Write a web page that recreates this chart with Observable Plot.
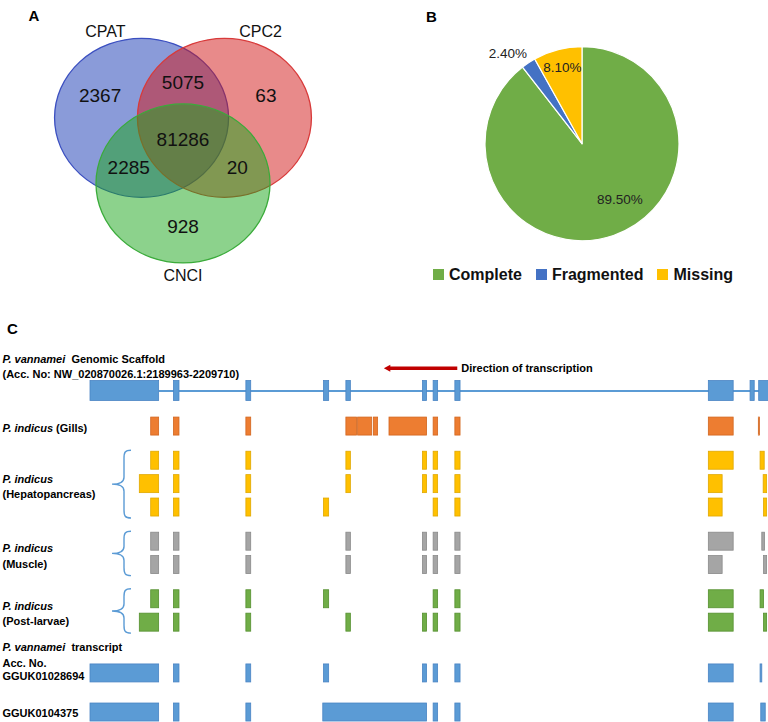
<!DOCTYPE html>
<html>
<head>
<meta charset="utf-8">
<script src="https://cdn.jsdelivr.net/npm/d3@7"></script>
<script src="https://cdn.jsdelivr.net/npm/@observablehq/plot@0.6"></script>
<style>
html, body { margin: 0; padding: 0; background: #fff; overflow: hidden; }
#page { position: relative; width: 768px; height: 722px; background: #fff; }
.panel { position: absolute; }
.venn-dot circle { transform-box: fill-box; transform-origin: center; transform: scaleY(0.914); }
.busco-legend-swatch { margin-right: 14px !important; }
.busco-legend-swatch > svg { margin-right: 5px !important; }
#panelC text { white-space: pre; }
</style>
</head>
<body>
<div id="page">
  <div id="panelA" class="panel" style="left:0;top:0;width:384px;height:300px"></div>
  <div id="panelB" class="panel" style="left:384px;top:0;width:384px;height:260px"></div>
  <div id="legendB" class="panel" style="left:433px;top:258px;width:335px"></div>
  <div id="panelC" class="panel" style="left:0;top:300px;width:768px;height:422px"></div>
</div>
<script>
// ---------------- DATA ----------------
// Panel A: Venn diagram of coding-potential tools
const vennSets = ["CPAT", "CPC2", "CNCI"];
const vennRegionSets = [["CPAT"], ["CPC2"], ["CNCI"], ["CPAT", "CPC2"], ["CPAT", "CNCI"], ["CPC2", "CNCI"], ["CPAT", "CPC2", "CNCI"]];
const vennRegionCounts = [2367, 63, 928, 5075, 2285, 20, 81286];
const vennFillColors = ["#1537b3", "#d11515", "#19a519"];
const vennStrokeColors = ["#3b4fc0", "#d83a3a", "#3aab3a"];

// Panel B: BUSCO completeness
const buscoCategories = ["Complete", "Fragmented", "Missing"];
const buscoPercent = [89.5, 2.4, 8.1];
const buscoColors = ["#70ad47", "#4472c4", "#ffc000"];

// Panel C: gene structure (positions in kb from scaffold start)
const scaffoldName = "P. vannamei  Genomic Scaffold";
const scaffoldAcc = "(Acc. No: NW_020870026.1:2189963-2209710)";
const scaffoldStart = 2189963;
const scaffoldEnd = 2209710;
const scaffoldExons = [[0, 1.99], [2.42, 2.58], [4.52, 4.66], [6.77, 6.92], [7.42, 7.55], [9.64, 9.76], [9.95, 10.08], [10.58, 10.73], [17.93, 18.65], [19.14, 19.26], [19.39, 19.75]];
const gillsExons = [[1.76, 1.99], [2.42, 2.58], [4.52, 4.66], [7.42, 7.73], [7.76, 8.17], [8.22, 8.34], [8.67, 9.76], [9.95, 10.08], [10.58, 10.73], [17.93, 18.65], [19.38, 19.41]];
const hepato1Exons = [[1.76, 1.99], [2.42, 2.58], [4.52, 4.66], [7.42, 7.55], [9.64, 9.76], [9.95, 10.08], [10.58, 10.73], [17.93, 18.65], [19.43, 19.55]];
const hepato2Exons = [[1.43, 1.99], [2.42, 2.58], [4.52, 4.66], [7.42, 7.55], [9.64, 9.76], [9.95, 10.08], [10.58, 10.73], [17.93, 18.33], [19.52, 19.62]];
const hepato3Exons = [[1.76, 1.99], [2.42, 2.58], [4.52, 4.66], [6.77, 6.92], [9.95, 10.08], [10.58, 10.73], [17.93, 18.33], [19.53, 19.62]];
const muscle1Exons = [[1.76, 1.99], [2.42, 2.58], [4.52, 4.66], [7.42, 7.55], [9.64, 9.76], [9.95, 10.08], [10.58, 10.73], [17.93, 18.65], [19.48, 19.56]];
const muscle2Exons = [[1.76, 1.99], [2.42, 2.58], [4.52, 4.66], [7.42, 7.55], [9.64, 9.76], [9.95, 10.08], [10.58, 10.73], [17.93, 18.33], [19.53, 19.62]];
const postlarvae1Exons = [[1.76, 1.99], [2.42, 2.58], [4.52, 4.66], [6.77, 6.92], [9.95, 10.08], [10.58, 10.73], [17.93, 18.65], [19.43, 19.53]];
const postlarvae2Exons = [[1.43, 1.99], [2.42, 2.58], [4.52, 4.66], [7.42, 7.55], [9.64, 9.76], [9.95, 10.08], [10.58, 10.73], [17.93, 18.65], [19.53, 19.62]];
const transcript1Exons = [[0, 1.99], [2.42, 2.58], [4.52, 4.66], [6.77, 6.92], [9.64, 9.76], [9.95, 10.08], [10.58, 10.73], [17.93, 18.65], [19.43, 19.48]];
const transcript2Exons = [[0, 1.99], [2.42, 2.58], [4.52, 4.66], [6.75, 9.76], [9.95, 10.08], [10.58, 10.73], [17.93, 18.65], [19.45, 19.58]];
const trackGroups = ["Gills", "Hepatopancreas", "Hepatopancreas", "Hepatopancreas", "Muscle", "Muscle", "Post-larvae", "Post-larvae", "GGUK01028694", "GGUK0104375"];
const trackExonLists = [gillsExons, hepato1Exons, hepato2Exons, hepato3Exons, muscle1Exons, muscle2Exons, postlarvae1Exons, postlarvae2Exons, transcript1Exons, transcript2Exons];
const transcriptionArrowKb = [10.65, 8.52];
const arrowLabel = "Direction of transcription";

// ---------------- STYLE / LAYOUT ----------------
const FONT = "'Liberation Sans', Arial, Helvetica, sans-serif";
function polar(deg, d) { const a = deg * Math.PI / 180; return [d * Math.sin(a), -d * Math.cos(a)]; }

// ---- Panel A ----
const setAngle = {CPAT: -60, CPC2: 60, CNCI: 180};
const setLabelAngle = {CPAT: -21, CPC2: 21, CNCI: 180};
const centerDist = 0.55, soloDist = 1.1, pairDist = 0.72, labelDist = 1.16;
const circles = vennSets.map((s, i) => {
  const [x, y] = polar(setAngle[s], centerDist);
  return {set: s, x, y, fill: vennFillColors[i], stroke: vennStrokeColors[i]};
});
const regions = vennRegionSets.map((sets, i) => {
  let p = [0, 0];
  if (sets.length === 1) p = polar(setAngle[sets[0]], soloDist);
  else if (sets.length === 2) {
    const other = vennSets.find(s => !sets.includes(s));
    p = polar(setAngle[other] + 180, pairDist);
  }
  return {count: vennRegionCounts[i], x: p[0], y: p[1]};
});
const setLabels = circles.map(c => {
  const [dx, dy] = polar(setLabelAngle[c.set], labelDist);
  return {set: c.set, x: c.x + dx, y: c.y + dy};
});

const plotA = Plot.plot({
  width: 384, height: 300, margin: 0,
  x: {domain: [-1, 1], range: [95.5, 269.5], axis: null},
  y: {domain: [-1, 1], range: [59.7, 218.7], axis: null},
  color: {type: "identity"},
  style: {fontFamily: FONT, background: "transparent"},
  marks: [
    Plot.dot(circles, {x: "x", y: "y", r: 87, fill: "fill", fillOpacity: 0.5, stroke: "stroke", strokeWidth: 1.3, className: "venn-dot"}),
    Plot.text(regions, {x: "x", y: "y", text: d => String(d.count), fontSize: 19, fill: "#111"}),
    Plot.text(setLabels, {x: "x", y: "y", text: "set", fontSize: 16, fill: "#111"}),
    Plot.text(["A"], {frameAnchor: "top-left", dx: 28, dy: 10, fontSize: 15, fontWeight: "bold", fill: "#000"})
  ]
});
document.getElementById("panelA").append(plotA);

// ---- Panel B ----
const buscoColor = Plot.scale({color: {type: "ordinal", domain: buscoCategories, range: buscoColors}});
const buscoData = buscoCategories.map((c, i) => ({category: c, percent: buscoPercent[i]}));
const pieArcs = d3.pie().sort(null).value(d => d.percent)(buscoData);
const pieLabelLayout = {Complete: {r: 0.69, dA: -15}, Fragmented: {r: 1.21, dA: -6}, Missing: {r: 0.82, dA: 0}};
const pieLabels = pieArcs.map(a => {
  const L = pieLabelLayout[a.data.category];
  const ang = (a.startAngle + a.endAngle) / 2 + L.dA * Math.PI / 180;
  return {text: a.data.percent.toFixed(2) + "%", x: L.r * Math.sin(ang), y: L.r * Math.cos(ang)};
});
function pieMark(index, scales) {
  const cx = scales.x(0), cy = scales.y(0), r = scales.x(1) - scales.x(0);
  const arc = d3.arc().innerRadius(0).outerRadius(r);
  const g = d3.create("svg:g").attr("transform", `translate(${cx},${cy})`);
  g.selectAll("path").data(pieArcs).join("path")
    .attr("d", arc)
    .attr("fill", d => buscoColor.apply(d.data.category))
    .attr("stroke", "#fff").attr("stroke-width", 1.2).attr("stroke-linejoin", "round");
  return g.node();
}
const plotB = Plot.plot({
  width: 384, height: 260, margin: 0,
  x: {domain: [-1, 1], range: [101, 295], axis: null},
  y: {domain: [-1, 1], range: [240.7, 46.7], axis: null},
  style: {fontFamily: FONT, background: "transparent"},
  marks: [
    pieMark,
    Plot.text(pieLabels, {x: "x", y: "y", text: "text", fontSize: 13.5, fill: "#222"}),
    Plot.text(["B"], {frameAnchor: "top-left", dx: 41.5, dy: 11, fontSize: 15, fontWeight: "bold", fill: "#000"})
  ]
});
document.getElementById("panelB").append(plotB);
const legendB = Plot.legend({
  color: {type: "ordinal", domain: buscoCategories, range: buscoColors},
  swatchSize: 11,
  className: "busco-legend",
  style: {fontFamily: FONT, fontSize: "16px", fontWeight: "bold", color: "#111"}
});
document.getElementById("legendB").append(legendB);

// ---- Panel C ----
const TRACK_PX = 23.4;
const groupGapBefore = {"Gills": 1.52, "Hepatopancreas": 1.46, "Muscle": 1.46, "Post-larvae": 1.46, "GGUK01028694": 2.17, "GGUK0104375": 1.67};
const groupFill = {scaffold: "#5b9bd5", "Gills": "#ed7d31", "Hepatopancreas": "#ffc000", "Muscle": "#a5a5a5", "Post-larvae": "#70ad47", "GGUK01028694": "#5b9bd5", "GGUK0104375": "#5b9bd5"};
const groupStroke = {scaffold: "#4a84c4", "Gills": "#d2661f", "Hepatopancreas": "#e0a800", "Muscle": "#8a8a8a", "Post-larvae": "#55902f", "GGUK01028694": "#4a84c4", "GGUK0104375": "#4a84c4"};
let acc = 0, prev = "scaffold";
const trackY = trackGroups.map(g => { acc += (g === prev ? 1 : groupGapBefore[g]); prev = g; return acc; });
const exonRecords = [];
scaffoldExons.forEach(([s, e]) => exonRecords.push({start: s, end: e, y: 0, half: 10 / TRACK_PX, fill: groupFill.scaffold, stroke: groupStroke.scaffold}));
trackExonLists.forEach((list, i) => list.forEach(([s, e]) => exonRecords.push({start: s, end: e, y: trackY[i], half: 9 / TRACK_PX, fill: groupFill[trackGroups[i]], stroke: groupStroke[trackGroups[i]]})));
const scaffoldLengthKb = (scaffoldEnd - scaffoldStart) / 1000;

function groupY(g) { const ys = trackY.filter((y, i) => trackGroups[i] === g); return {y1: d3.min(ys), y2: d3.max(ys), y: d3.mean(ys)}; }
const tissueGroups = ["Hepatopancreas", "Muscle", "Post-larvae"];
const tissueLabels = tissueGroups.map(g => ({text: "P. indicus\n(" + g + ")", y: groupY(g).y}));
const braces = tissueGroups.map(g => groupY(g));
const t1 = groupY("GGUK01028694").y, t2 = groupY("GGUK0104375").y;
const arrowTrack = -0.95;

function braceMark(index, scales, values, dimensions) {
  const ml = dimensions.marginLeft;
  const xl = ml + 22, xm = ml + 34, xr = ml + 41;
  const g = d3.create("svg:g").attr("fill", "none").attr("stroke", "#5b9bd5").attr("stroke-width", 1.4);
  for (const b of braces) {
    const yt = scales.y(b.y1) - 10, yb = scales.y(b.y2) + 11, ym = (yt + yb) / 2;
    const p = `M${xr},${yt} C${xm + 1},${yt} ${xm},${yt + 2} ${xm},${yt + 8} L${xm},${ym - 7} C${xm},${ym - 2} ${xm - 4},${ym} ${xl},${ym} C${xm - 4},${ym} ${xm},${ym + 2} ${xm},${ym + 7} L${xm},${yb - 8} C${xm},${yb - 2} ${xm + 1},${yb} ${xr},${yb}`;
    g.append("path").attr("d", p);
  }
  return g.node();
}
function arrowMark(index, scales) {
  const xa = scales.x(transcriptionArrowKb[0]), xb = scales.x(transcriptionArrowKb[1]), y = scales.y(arrowTrack);
  const hl = 6.5, hw = 3.6, sw = 1.8;
  const pts = [[xa, y - sw], [xb + hl, y - sw], [xb + hl, y - hw], [xb, y], [xb + hl, y + hw], [xb + hl, y + sw], [xa, y + sw]];
  return d3.create("svg:path").attr("d", "M" + pts.map(p => p.join(",")).join("L") + "Z").attr("fill", "#c00000").node();
}

const textOpts = {frameAnchor: "left", dx: -88, fontWeight: "bold", fill: "#000", fontSize: 11};
const plotC = Plot.plot({
  width: 768, height: 422, marginLeft: 90, marginRight: 0, marginTop: 0, marginBottom: 0,
  x: {domain: [0, 19.66], axis: null},
  y: {domain: [0, 1], range: [90.5, 90.5 + TRACK_PX], axis: null},
  color: {type: "identity"},
  style: {fontFamily: FONT, background: "transparent"},
  marks: [
    Plot.ruleY([0], {x1: scaffoldExons[0][1], x2: scaffoldLengthKb, stroke: "#5b9bd5", strokeWidth: 2}),
    Plot.rect(exonRecords, {x1: "start", x2: "end", y1: d => d.y - d.half, y2: d => d.y + d.half, fill: "fill", stroke: "stroke", strokeWidth: 0.8}),
    arrowMark,
    Plot.text([arrowLabel], {x: transcriptionArrowKb[0] + 0.1, y: arrowTrack, textAnchor: "start", fontWeight: "bold", fontSize: 11, fill: "#000"}),
    braceMark,
    Plot.text([scaffoldName + "\n" + scaffoldAcc], {...textOpts, y: 0, dy: -25, lineHeight: 1.31}),
    Plot.text(["P. indicus (Gills)"], {...textOpts, y: trackY[0], dy: 2}),
    Plot.text(tissueLabels, {...textOpts, y: "y", text: "text", dy: 1.5, lineHeight: 1.4}),
    Plot.text(["P. vannamei  transcript\nAcc. No."], {...textOpts, y: t1, dy: -19.6, lineHeight: 1.5}),
    Plot.text(["GGUK01028694"], {...textOpts, y: t1, dy: 3.4}),
    Plot.text(["GGUK0104375"], {...textOpts, y: t2, dy: 1.4}),
    Plot.text(["C"], {frameAnchor: "top-left", dx: 6.5 - 90, dy: 23, fontSize: 15, fontWeight: "bold", fill: "#000"})
  ]
});
// italicize species names
plotC.querySelectorAll("text").forEach(t => {
  const spans = t.querySelectorAll("tspan");
  const nodes = spans.length ? Array.from(spans) : [t];
  nodes.forEach(node => {
    const m = node.textContent.match(/^(P\. (?:indicus|vannamei))(.*)$/);
    if (!m) return;
    node.textContent = "";
    const a = document.createElementNS("http://www.w3.org/2000/svg", "tspan");
    a.setAttribute("font-style", "italic");
    a.textContent = m[1];
    const b = document.createElementNS("http://www.w3.org/2000/svg", "tspan");
    b.textContent = m[2];
    node.append(a, b);
  });
});
document.getElementById("panelC").append(plotC);
</script>
</body>
</html>
